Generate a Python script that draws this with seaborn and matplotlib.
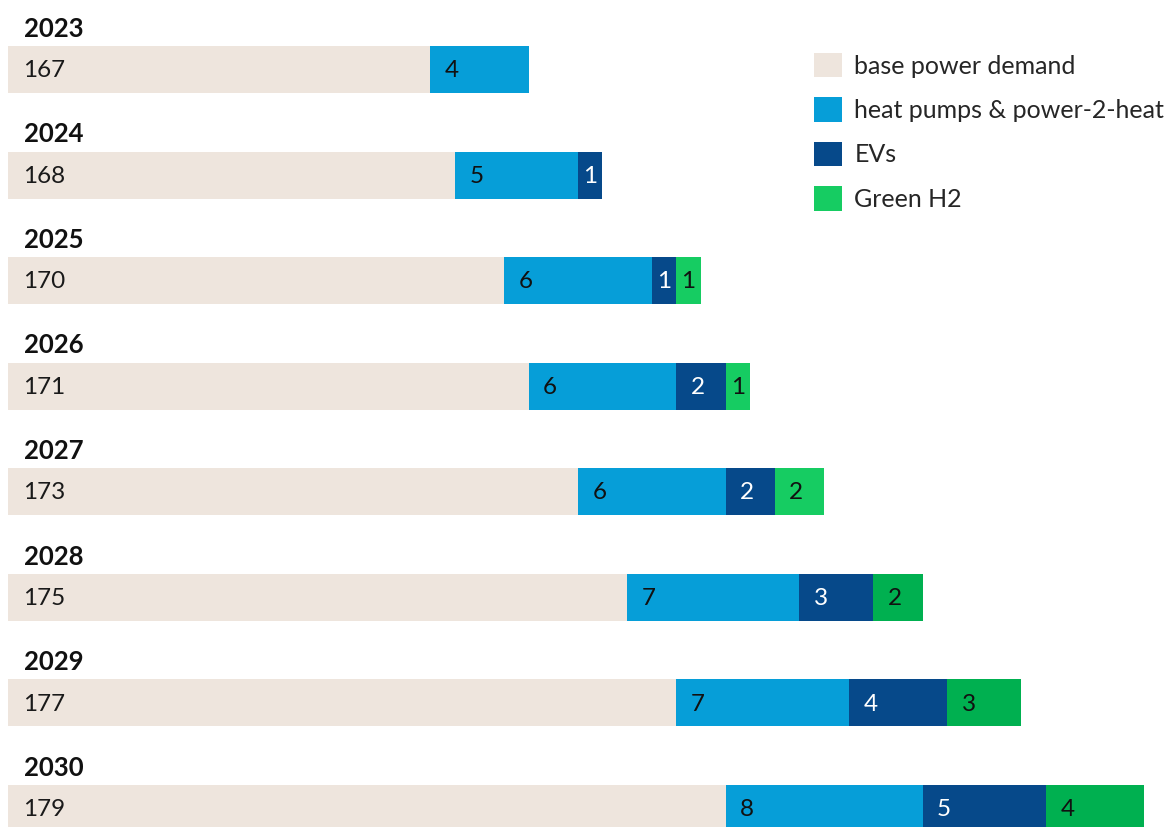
import matplotlib
matplotlib.use("Agg")
import matplotlib.pyplot as plt
from matplotlib.patches import Patch
import numpy as np
import pandas as pd
import seaborn as sns

# Electricity demand by year (TWh)
years = ["2023", "2024", "2025", "2026", "2027", "2028", "2029", "2030"]
base_demand = [167, 168, 170, 171, 173, 175, 177, 179]
heat_pumps = [4, 5, 6, 6, 6, 7, 7, 8]
evs = [0, 1, 1, 2, 2, 3, 4, 5]
green_h2 = [0, 0, 1, 1, 2, 2, 3, 4]

series_names = ["base power demand", "heat pumps & power-2-heat", "EVs", "Green H2"]

BEIGE = "#EEE5DD"
BLUE = "#069ED8"
NAVY = "#06498A"
GREEN_LIGHT = "#16CC62"
GREEN_DARK = "#00B050"
h2_colors = [GREEN_LIGHT] * 5 + [GREEN_DARK] * 3

sns.set_theme(style="white")
plt.rcParams["font.family"] = ["Lato", "DejaVu Sans"]

df = pd.DataFrame({
    "year": years,
    "base": base_demand,
    "hp": heat_pumps,
    "ev": evs,
    "h2": green_h2,
})
df["c1"] = df["base"]
df["c2"] = df["c1"] + df["hp"]
df["c3"] = df["c2"] + df["ev"]
df["c4"] = df["c3"] + df["h2"]

fig = plt.figure(figsize=(11.68, 8.27), dpi=100)
ax = fig.add_axes([8 / 1168, 0, 1 - 8 / 1168, 1])

bar_w = 0.445
common = dict(y="year", orient="h", width=bar_w, saturation=1, linewidth=0, ax=ax)

# Stacked bars drawn as overlapping cumulative totals, longest first
sns.barplot(data=df, x="c4", hue="year", palette=h2_colors, legend=False, **common)
sns.barplot(data=df, x="c3", color=NAVY, **common)
sns.barplot(data=df, x="c2", color=BLUE, **common)
sns.barplot(data=df, x="c1", color=BEIGE, **common)

x0 = 149.86
ax.set_xlim(x0, 196.97)
ax.set_ylim(7.175, -0.658)
ax.set_axis_off()

label_fs = 17.5
for i, row in df.iterrows():
    # year heading above each bar
    ax.text(x0 + 0.65, i - 0.31, row["year"], fontsize=18.5, fontweight="bold",
            color="#111111", ha="left", va="baseline")
    # base value
    ax.text(x0 + 0.6, i + 0.01, f"{row['base']}", fontsize=label_fs, color="#1a1a1a",
            ha="left", va="center")
    segs = [
        (row["c1"], row["hp"], "#111111"),
        (row["c2"], row["ev"], "white"),
        (row["c3"], row["h2"], "#111111"),
    ]
    for start, w, col in segs:
        if w <= 0:
            continue
        ax.text(start + min(0.88, w / 2), i + 0.01, f"{w}", fontsize=label_fs,
                color=col, ha="center", va="center")

handles = [
    Patch(facecolor=BEIGE, edgecolor="none"),
    Patch(facecolor=BLUE, edgecolor="none"),
    Patch(facecolor=NAVY, edgecolor="none"),
    Patch(facecolor=GREEN_LIGHT, edgecolor="none"),
]
fig.legend(handles, series_names, loc="upper left",
           bbox_to_anchor=(804 / 1168, 1 - 43 / 827), frameon=False,
           fontsize=18, handlelength=1.12, handleheight=1.12,
           handletextpad=0.5, labelspacing=0.79, borderaxespad=0)

fig.savefig("out.png", dpi=100)
